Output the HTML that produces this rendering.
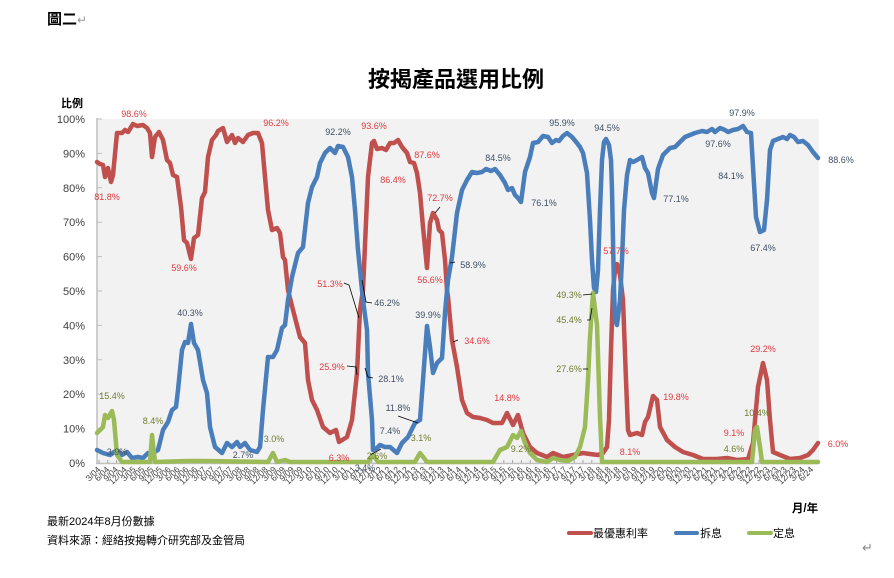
<!DOCTYPE html>
<html>
<head>
<meta charset="utf-8">
<style>
  html,body{margin:0;padding:0;background:#fff;}
  body{width:894px;height:578px;overflow:hidden;}
  svg{display:block;font-family:"Liberation Sans","Noto Sans CJK TC",sans-serif;}
  .lr{fill:#e0393e;font-size:9px;}
  .lb{fill:#3f4f66;font-size:9px;}
  .lg{fill:#6f7c2e;font-size:9px;}
  .yl{fill:#404040;font-size:11px;}
  .xl{fill:#404040;font-size:8.5px;}
</style>
</head>
<body>
<svg width="894" height="578" viewBox="0 0 894 578" xmlns="http://www.w3.org/2000/svg">
  <!-- header -->
  <text x="47" y="24" font-size="15" font-weight="bold" fill="#000">圖二</text>
  <text x="77" y="24" font-size="12" fill="#999">↵</text>
  <text x="456" y="87" font-size="22" font-weight="bold" fill="#000" text-anchor="middle">按揭產品選用比例</text>
  <text x="72" y="107" font-size="11" font-weight="bold" fill="#000" text-anchor="middle">比例</text>

  <!-- plot area -->
  <rect x="97" y="119" width="722" height="344" fill="#f2f2f2"/>
  <line x1="97" y1="118" x2="97" y2="464" stroke="#bfbfbf" stroke-width="1.5"/>
  <line x1="96" y1="463.5" x2="819" y2="463.5" stroke="#bfbfbf" stroke-width="1.5"/>
  <path d="M97 119h5M97 153.4h5M97 187.8h5M97 222.2h5M97 256.6h5M97 291h5M97 325.4h5M97 359.8h5M97 394.2h5M97 428.6h5" stroke="#bfbfbf" stroke-width="1"/>
  <path d="M99 463v-3M107.8 463v-3M116.6 463v-3M125.4 463v-3M134.2 463v-3M143 463v-3M151.8 463v-3M160.6 463v-3M169.4 463v-3M178.2 463v-3M187 463v-3M195.8 463v-3M204.6 463v-3M213.4 463v-3M222.2 463v-3M231 463v-3M239.8 463v-3M248.6 463v-3M257.4 463v-3M266.2 463v-3M275 463v-3M283.8 463v-3M292.6 463v-3M301.4 463v-3M310.2 463v-3M319 463v-3M327.8 463v-3M336.6 463v-3M345.4 463v-3M354.2 463v-3M363 463v-3M371.8 463v-3M380.6 463v-3M389.4 463v-3M398.2 463v-3M407 463v-3M415.8 463v-3M424.6 463v-3M433.4 463v-3M442.2 463v-3M451 463v-3M459.8 463v-3M468.6 463v-3M477.4 463v-3M486.2 463v-3M495 463v-3M503.8 463v-3M512.6 463v-3M521.4 463v-3M530.2 463v-3M539 463v-3M547.8 463v-3M556.6 463v-3M565.4 463v-3M574.2 463v-3M583 463v-3M591.8 463v-3M600.6 463v-3M609.4 463v-3M618.2 463v-3M627 463v-3M635.8 463v-3M644.6 463v-3M653.4 463v-3M662.2 463v-3M671 463v-3M679.8 463v-3M688.6 463v-3M697.4 463v-3M706.2 463v-3M715 463v-3M723.8 463v-3M732.6 463v-3M741.4 463v-3M750.2 463v-3M759 463v-3M767.8 463v-3M776.6 463v-3M785.4 463v-3M794.2 463v-3M803 463v-3M811.8 463v-3" stroke="#a6a6a6" stroke-width="1"/>

  <!-- y labels -->
  <g class="yl" text-anchor="end">
    <text x="85" y="123">100%</text>
    <text x="85" y="157.4">90%</text>
    <text x="85" y="191.8">80%</text>
    <text x="85" y="226.2">70%</text>
    <text x="85" y="260.6">60%</text>
    <text x="85" y="295">50%</text>
    <text x="85" y="329.4">40%</text>
    <text x="85" y="363.8">30%</text>
    <text x="85" y="398.2">20%</text>
    <text x="85" y="432.6">10%</text>
    <text x="85" y="467">0%</text>
  </g>

  <!-- x labels -->
  <g class="xl" text-anchor="end">
    <text transform="translate(101,470) rotate(-45)">3/04</text>
    <text transform="translate(109.8,470) rotate(-45)">6/04</text>
    <text transform="translate(118.6,470) rotate(-45)">9/04</text>
    <text transform="translate(127.4,470) rotate(-45)">12/04</text>
    <text transform="translate(136.2,470) rotate(-45)">3/05</text>
    <text transform="translate(145,470) rotate(-45)">6/05</text>
    <text transform="translate(153.8,470) rotate(-45)">9/05</text>
    <text transform="translate(162.6,470) rotate(-45)">12/05</text>
    <text transform="translate(171.4,470) rotate(-45)">3/06</text>
    <text transform="translate(180.2,470) rotate(-45)">6/06</text>
    <text transform="translate(189,470) rotate(-45)">9/06</text>
    <text transform="translate(197.8,470) rotate(-45)">12/06</text>
    <text transform="translate(206.6,470) rotate(-45)">3/07</text>
    <text transform="translate(215.4,470) rotate(-45)">6/07</text>
    <text transform="translate(224.2,470) rotate(-45)">9/07</text>
    <text transform="translate(233,470) rotate(-45)">12/07</text>
    <text transform="translate(241.8,470) rotate(-45)">3/08</text>
    <text transform="translate(250.6,470) rotate(-45)">6/08</text>
    <text transform="translate(259.4,470) rotate(-45)">9/08</text>
    <text transform="translate(268.2,470) rotate(-45)">12/08</text>
    <text transform="translate(277,470) rotate(-45)">3/09</text>
    <text transform="translate(285.8,470) rotate(-45)">6/09</text>
    <text transform="translate(294.6,470) rotate(-45)">9/09</text>
    <text transform="translate(303.4,470) rotate(-45)">12/09</text>
    <text transform="translate(312.2,470) rotate(-45)">3/10</text>
    <text transform="translate(321,470) rotate(-45)">6/10</text>
    <text transform="translate(329.8,470) rotate(-45)">9/10</text>
    <text transform="translate(338.6,470) rotate(-45)">12/10</text>
    <text transform="translate(347.4,470) rotate(-45)">3/11</text>
    <text transform="translate(356.2,470) rotate(-45)">6/11</text>
    <text transform="translate(365,470) rotate(-45)">9/11</text>
    <text transform="translate(373.8,470) rotate(-45)">12/11</text>
    <text transform="translate(382.6,470) rotate(-45)">3/12</text>
    <text transform="translate(391.4,470) rotate(-45)">6/12</text>
    <text transform="translate(400.2,470) rotate(-45)">9/12</text>
    <text transform="translate(409,470) rotate(-45)">12/12</text>
    <text transform="translate(417.8,470) rotate(-45)">3/13</text>
    <text transform="translate(426.6,470) rotate(-45)">6/13</text>
    <text transform="translate(435.4,470) rotate(-45)">9/13</text>
    <text transform="translate(444.2,470) rotate(-45)">12/13</text>
    <text transform="translate(453,470) rotate(-45)">3/14</text>
    <text transform="translate(461.8,470) rotate(-45)">6/14</text>
    <text transform="translate(470.6,470) rotate(-45)">9/14</text>
    <text transform="translate(479.4,470) rotate(-45)">12/14</text>
    <text transform="translate(488.2,470) rotate(-45)">3/15</text>
    <text transform="translate(497,470) rotate(-45)">6/15</text>
    <text transform="translate(505.8,470) rotate(-45)">9/15</text>
    <text transform="translate(514.6,470) rotate(-45)">12/15</text>
    <text transform="translate(523.4,470) rotate(-45)">3/16</text>
    <text transform="translate(532.2,470) rotate(-45)">6/16</text>
    <text transform="translate(541,470) rotate(-45)">9/16</text>
    <text transform="translate(549.8,470) rotate(-45)">12/16</text>
    <text transform="translate(558.6,470) rotate(-45)">3/17</text>
    <text transform="translate(567.4,470) rotate(-45)">6/17</text>
    <text transform="translate(576.2,470) rotate(-45)">9/17</text>
    <text transform="translate(585,470) rotate(-45)">12/17</text>
    <text transform="translate(593.8,470) rotate(-45)">3/18</text>
    <text transform="translate(602.6,470) rotate(-45)">6/18</text>
    <text transform="translate(611.4,470) rotate(-45)">9/18</text>
    <text transform="translate(620.2,470) rotate(-45)">12/18</text>
    <text transform="translate(629,470) rotate(-45)">3/19</text>
    <text transform="translate(637.8,470) rotate(-45)">6/19</text>
    <text transform="translate(646.6,470) rotate(-45)">9/19</text>
    <text transform="translate(655.4,470) rotate(-45)">12/19</text>
    <text transform="translate(664.2,470) rotate(-45)">3/20</text>
    <text transform="translate(673,470) rotate(-45)">6/20</text>
    <text transform="translate(681.8,470) rotate(-45)">9/20</text>
    <text transform="translate(690.6,470) rotate(-45)">12/20</text>
    <text transform="translate(699.4,470) rotate(-45)">3/21</text>
    <text transform="translate(708.2,470) rotate(-45)">6/21</text>
    <text transform="translate(717,470) rotate(-45)">9/21</text>
    <text transform="translate(725.8,470) rotate(-45)">12/21</text>
    <text transform="translate(734.6,470) rotate(-45)">3/22</text>
    <text transform="translate(743.4,470) rotate(-45)">6/22</text>
    <text transform="translate(752.2,470) rotate(-45)">9/22</text>
    <text transform="translate(761,470) rotate(-45)">12/22</text>
    <text transform="translate(769.8,470) rotate(-45)">3/23</text>
    <text transform="translate(778.6,470) rotate(-45)">6/23</text>
    <text transform="translate(787.4,470) rotate(-45)">9/23</text>
    <text transform="translate(796.2,470) rotate(-45)">12/23</text>
    <text transform="translate(805,470) rotate(-45)">3/24</text>
    <text transform="translate(813.8,470) rotate(-45)">6/24</text>
  </g>

  <!-- series -->
  <g fill="none" stroke-width="4.5" stroke-linejoin="round" stroke-linecap="round">
    <polyline stroke="#c0504d" points="97,162 100,164 103,165 105,177 108,168 111,182 113,175 117,133 122,133 125,130 128,132 133,124 137,126 143,125 147,128 150,133 152,157 155,137 159,132 163,140 167,160 170,163 173,175 177,177 181,207 184,240 187,243 191,259 194,238 198,235 202,198 205,192 208,157 212,140 216,135 218,131 223,128 227,142 232,135 235,143 238,138 243,142 248,135 253,133 258,133 262,143 265,177 268,210 272,230 277,228 280,233 283,257 285,260 288,290 293,310 300,337 305,343 308,380 312,400 317,410 323,427 330,433 336,430 339,442 347,437 352,420 357,373 360,310 363,290 368,177 372,143 374,141 377,149 382,148 386,150 390,143 394,143 398,140 402,147 407,153 410,162 414,163 417,173 420,193 423,227 427,268 430,223 433,213 437,220 439,230 442,233 445,260 447,290 448,297 452,340 457,367 462,400 467,413 473,417 480,418 487,420 493,423 502,423 507,413 513,425 518,415 523,433 530,447 537,453 547,457 553,453 563,457 573,455 583,453 590,454 598,455 603,453 607,447 609,420 611,350 613,290 615,270 617,264 620,275 623,300 626,380 628,430 630,435 637,433 642,435 645,422 648,417 653,396 657,400 660,427 667,440 675,447 683,452 693,455 703,459 717,459 727,458 737,460 748,459 753,443 758,387 763,363 767,380 770,420 773,452 780,455 790,459 800,458 808,455 813,450 818,443"/>
    <polyline stroke="#4a7ebb" points="97,450 103,453 110,455 117,450 122,455 127,452 132,458 138,457 143,458 148,453 153,453 158,450 163,430 168,422 172,410 176,407 178,390 182,350 185,342 188,343 191,324 194,343 198,350 203,380 207,393 210,427 215,447 222,453 227,443 232,447 237,442 240,447 245,443 250,450 257,452 260,447 263,410 268,357 273,357 277,350 282,328 285,325 288,300 292,277 298,253 303,247 308,203 312,187 317,177 320,163 325,153 330,148 335,153 338,146 343,147 348,157 352,177 355,210 358,250 362,290 363,300 367,330 368,373 372,420 373,450 377,448 380,445 385,447 390,447 397,453 402,443 408,437 415,423 420,420 423,380 427,326 430,347 433,373 437,363 442,358 445,313 448,280 452,257 457,213 462,190 467,180 472,172 477,173 482,172 486,169 491,171 495,169 500,175 505,183 508,190 512,188 515,195 518,198 521,202 525,172 530,157 533,143 538,142 543,136 548,137 552,143 556,140 559,141 563,136 567,133 572,137 577,143 580,147 583,153 587,173 590,220 592,260 594,288 596,292 598,270 600,210 602,160 604,142 606,139 609,145 611,160 612,190 613,240 614,290 615,320 617,325 620,300 622,260 624,210 627,175 630,160 633,162 637,160 642,157 645,168 648,173 652,193 654,198 658,169 663,155 670,148 675,147 680,142 685,137 690,135 695,133 702,131 707,132 712,129 715,132 720,128 725,130 728,132 733,130 738,129 743,126 747,132 751,133 753,167 756,217 760,232 764,230 767,200 770,150 773,141 778,139 783,137 787,139 790,135 794,137 798,142 803,141 808,145 813,152 818,158"/>
    <polyline stroke="#9bbb59" points="97,433 103,427 105,415 108,418 112,411 114,420 117,455 122,462 150,462 152,435 155,462 188,461 203,461 268,462 273,453 277,462 285,460 290,462 368,462 373,455 378,462 415,462 420,453 427,462 493,462 500,450 507,447 513,435 517,438 521,431 525,443 530,453 537,460 547,462 553,458 560,460 568,461 575,457 580,447 585,427 588,380 590,337 593,293 597,325 600,417 602,462 752,462 755,430 757,427 760,447 762,462 818,462"/>
  </g>

  <!-- leader lines -->
  <g fill="none" stroke="#000" stroke-width="0.8">
    <polyline points="344,283 349,285 359,318"/>
    <polyline points="347,366 356,367 357,375"/>
    <polyline points="362,280 366,302 372,303"/>
    <polyline points="365,368 368,377 373,378"/>
    <polyline points="398,416 418,423"/>
    <polyline points="370,455 381,449"/>
    <polyline points="440,207 435,213"/>
    <polyline points="450,263 455,262"/>
    <polyline points="453,342 458,340"/>
    <polyline points="583,295 592,294"/>
    <polyline points="587,320 590,320 592,308"/>
    <polyline points="583,369 588,369"/>
  </g>

  <!-- red labels -->
  <g class="lr" text-anchor="middle">
    <text x="134" y="117">98.6%</text>
    <text x="107" y="200">81.8%</text>
    <text x="184" y="271">59.6%</text>
    <text x="276" y="126">96.2%</text>
    <text x="330" y="287">51.3%</text>
    <text x="332" y="370">25.9%</text>
    <text x="339" y="461">6.3%</text>
    <text x="374" y="129">93.6%</text>
    <text x="393" y="183">86.4%</text>
    <text x="427" y="158">87.6%</text>
    <text x="440" y="201">72.7%</text>
    <text x="430" y="283">56.6%</text>
    <text x="477" y="344">34.6%</text>
    <text x="507" y="401">14.8%</text>
    <text x="616" y="254">57.7%</text>
    <text x="630" y="455">8.1%</text>
    <text x="676" y="400">19.8%</text>
    <text x="734" y="436">9.1%</text>
    <text x="763" y="352">29.2%</text>
    <text x="838" y="447">6.0%</text>
  </g>
  <!-- blue labels -->
  <g class="lb" text-anchor="middle">
    <text x="117" y="455">3.9%</text>
    <text x="190" y="316">40.3%</text>
    <text x="243" y="458">2.7%</text>
    <text x="338" y="135">92.2%</text>
    <text x="387" y="306">46.2%</text>
    <text x="391" y="382">28.1%</text>
    <text x="398" y="411">11.8%</text>
    <text x="390" y="434">7.4%</text>
    <text x="365" y="471">3.4%</text>
    <text x="428" y="318">39.9%</text>
    <text x="473" y="268">58.9%</text>
    <text x="498" y="161">84.5%</text>
    <text x="544" y="206">76.1%</text>
    <text x="562" y="126">95.9%</text>
    <text x="607" y="131">94.5%</text>
    <text x="676" y="202">77.1%</text>
    <text x="718" y="147">97.6%</text>
    <text x="742" y="116">97.9%</text>
    <text x="731" y="179">84.1%</text>
    <text x="763" y="251">67.4%</text>
    <text x="841" y="163">88.6%</text>
  </g>
  <!-- green labels -->
  <g class="lg" text-anchor="middle">
    <text x="112" y="399">15.4%</text>
    <text x="153" y="424">8.4%</text>
    <text x="274" y="442">3.0%</text>
    <text x="377" y="459">2.6%</text>
    <text x="421" y="441">3.1%</text>
    <text x="521" y="452">9.2%</text>
    <text x="569" y="298">49.3%</text>
    <text x="569" y="323">45.4%</text>
    <text x="569" y="372">27.6%</text>
    <text x="734" y="452">4.6%</text>
    <text x="757" y="416">10.4%</text>
  </g>

  <!-- axis title & legend -->
  <text x="805" y="512" font-size="11.5" font-weight="bold" fill="#000" text-anchor="middle">月/年</text>
  <line x1="569" y1="533" x2="591" y2="533" stroke="#c0504d" stroke-width="4" stroke-linecap="round"/>
  <text x="593" y="537" font-size="11" fill="#000">最優惠利率</text>
  <line x1="676" y1="533" x2="697" y2="533" stroke="#4a7ebb" stroke-width="4" stroke-linecap="round"/>
  <text x="700" y="537" font-size="11" fill="#000">拆息</text>
  <line x1="749" y1="533" x2="771" y2="533" stroke="#9bbb59" stroke-width="4" stroke-linecap="round"/>
  <text x="773" y="537" font-size="11" fill="#000">定息</text>

  <!-- footer -->
  <text x="47" y="525" font-size="11" fill="#000">最新2024年8月份數據</text>
  <text x="47" y="544" font-size="11" fill="#000">資料來源：經絡按揭轉介研究部及金管局</text>
  <text x="862" y="552" font-size="13" fill="#888">↵</text>
</svg>
</body>
</html>
